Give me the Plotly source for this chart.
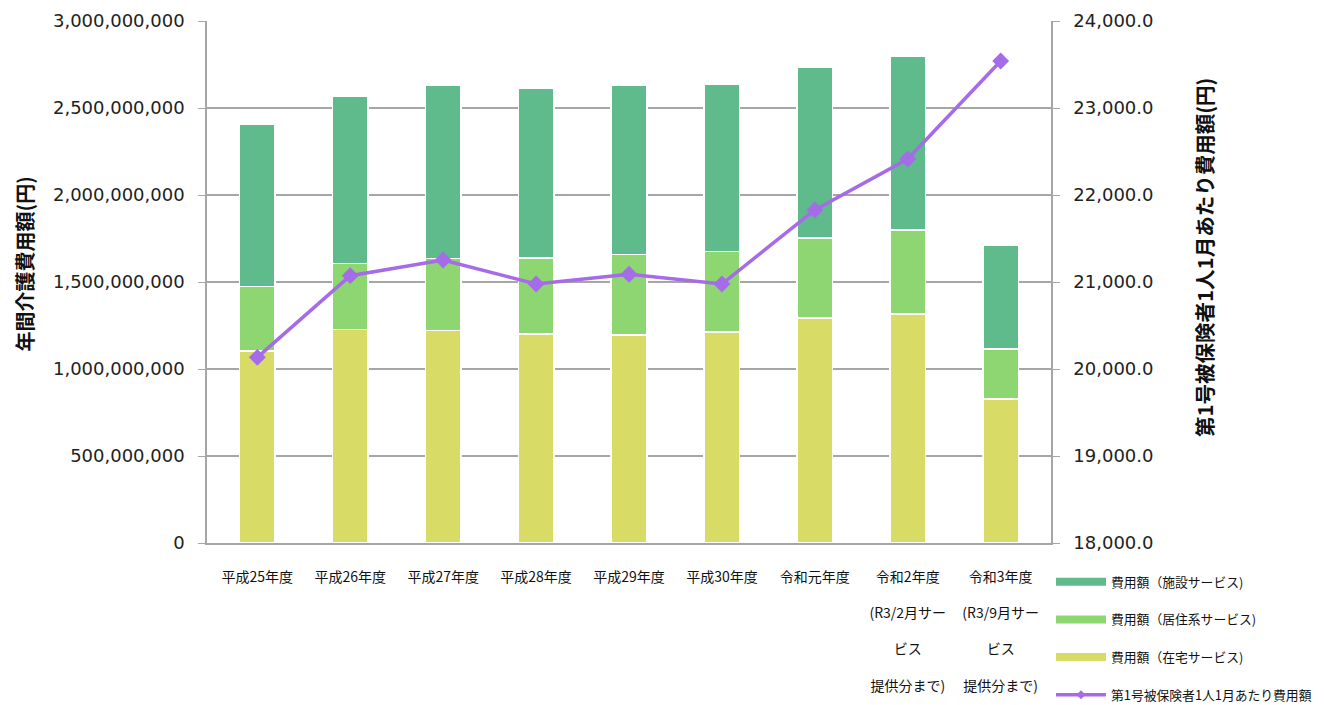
import plotly.graph_objects as go

categories = ["平成25年度", "平成26年度", "平成27年度", "平成28年度", "平成29年度",
              "平成30年度", "令和元年度",
              "令和2年度<br><br>(R3/2月サー<br><br>ビス<br><br>提供分まで)",
              "令和3年度<br><br>(R3/9月サー<br><br>ビス<br><br>提供分まで)"]

zaitaku = [1103000000, 1228000000, 1222000000, 1201000000, 1195000000,
           1214000000, 1293000000, 1316000000, 828000000]
kyoju = [370000000, 379000000, 414000000, 437000000, 462000000,
         462000000, 460000000, 483000000, 287000000]
shisetsu = [933000000, 962000000, 992000000, 975000000, 975000000,
            962000000, 984000000, 1000000000, 598000000]
per_person = [20134, 21073, 21253, 20977, 21089, 20977, 21828, 22414, 23540]

name_shisetsu = "費用額（施設サービス)"
name_kyoju = "費用額（居住系サービス)"
name_zaitaku = "費用額（在宅サービス)"
name_line = "第1号被保険者1人1月あたり費用額"

c_shisetsu = "#5FBB8C"
c_kyoju = "#8DD672"
c_zaitaku = "#D8DB66"
c_line = "#A66BE8"

font_main = "DejaVu Sans, Noto Sans CJK JP"
font_jp = "Noto Sans CJK JP"

fig = go.Figure()
bar_line = dict(color="white", width=1.5)
fig.add_trace(go.Bar(x=categories, y=zaitaku, marker=dict(color=c_zaitaku, line=bar_line),
                     showlegend=False, name=name_zaitaku))
fig.add_trace(go.Bar(x=categories, y=kyoju, marker=dict(color=c_kyoju, line=bar_line),
                     showlegend=False, name=name_kyoju))
fig.add_trace(go.Bar(x=categories, y=shisetsu, marker=dict(color=c_shisetsu, line=bar_line),
                     showlegend=False, name=name_shisetsu))
fig.add_trace(go.Scatter(x=categories, y=per_person, yaxis="y2", mode="lines+markers",
                         line=dict(color=c_line, width=3.5),
                         marker=dict(symbol="diamond", size=13, color=c_line),
                         showlegend=False, name=name_line))

# legend entries (line-style swatches)
for nm, col, grp in [(name_shisetsu, c_shisetsu, "a"), (name_kyoju, c_kyoju, "b"),
                     (name_zaitaku, c_zaitaku, "c")]:
    fig.add_trace(go.Scatter(x=[None], y=[None], mode="lines", name=nm, legendgroup=grp,
                             line=dict(color=col, width=8)))
fig.add_trace(go.Scatter(x=[None], y=[None], mode="lines+markers", name=name_line, legendgroup="d",
                         line=dict(color=c_line, width=3.5),
                         marker=dict(symbol="diamond", size=7, color=c_line)))

grid = "#A6A6A6"
fig.update_layout(
    width=1317, height=697,
    margin=dict(l=199, r=274, t=13, b=162, autoexpand=False),
    paper_bgcolor="white", plot_bgcolor="white",
    barmode="stack", bargap=0.617,
    font=dict(family=font_main, size=18, color="#222222"),
    xaxis=dict(showline=True, linecolor=grid, linewidth=1.5, automargin=False,
               tickfont=dict(family=font_jp, size=14, color="#111111"),
               ticks="", ticklabelstandoff=20),
    yaxis=dict(range=[0, 3000000000], dtick=500000000, tickformat=",",
               showgrid=True, gridcolor=grid, gridwidth=1.5, automargin=False,
               showline=True, linecolor=grid, linewidth=1.5,
               ticks="outside", ticklen=7, tickcolor=grid, ticklabelstandoff=10,
               zeroline=False),
    yaxis2=dict(range=[18000, 24000], dtick=1000, tickformat=",.1f",
                overlaying="y", side="right", showgrid=False, automargin=False,
                showline=True, linecolor=grid, linewidth=1.5,
                ticks="outside", ticklen=7, tickcolor=grid, ticklabelstandoff=10,
                zeroline=False),
    legend=dict(x=1.0, xanchor="left", y=-0.046, yanchor="top",
                traceorder="grouped", tracegroupgap=18, itemwidth=50,
                font=dict(family=font_jp, size=12.8, color="#111111"),
                bgcolor="rgba(0,0,0,0)"),
    annotations=[
        dict(text="<b>年間介護費用額(円)</b>", textangle=-90, xref="paper", yref="paper",
             x=-0.216, y=0.535, xanchor="center", yanchor="middle", showarrow=False,
             font=dict(family=font_jp, size=20, color="#111111")),
        dict(text="<b>第1号被保険者1人1月あたり費用額(円)</b>", textangle=-90,
             xref="paper", yref="paper", x=1.182, y=0.547, xanchor="center", yanchor="middle",
             showarrow=False, font=dict(family=font_jp, size=20.5, color="#111111")),
    ],
)

fig.write_html("out.html")
